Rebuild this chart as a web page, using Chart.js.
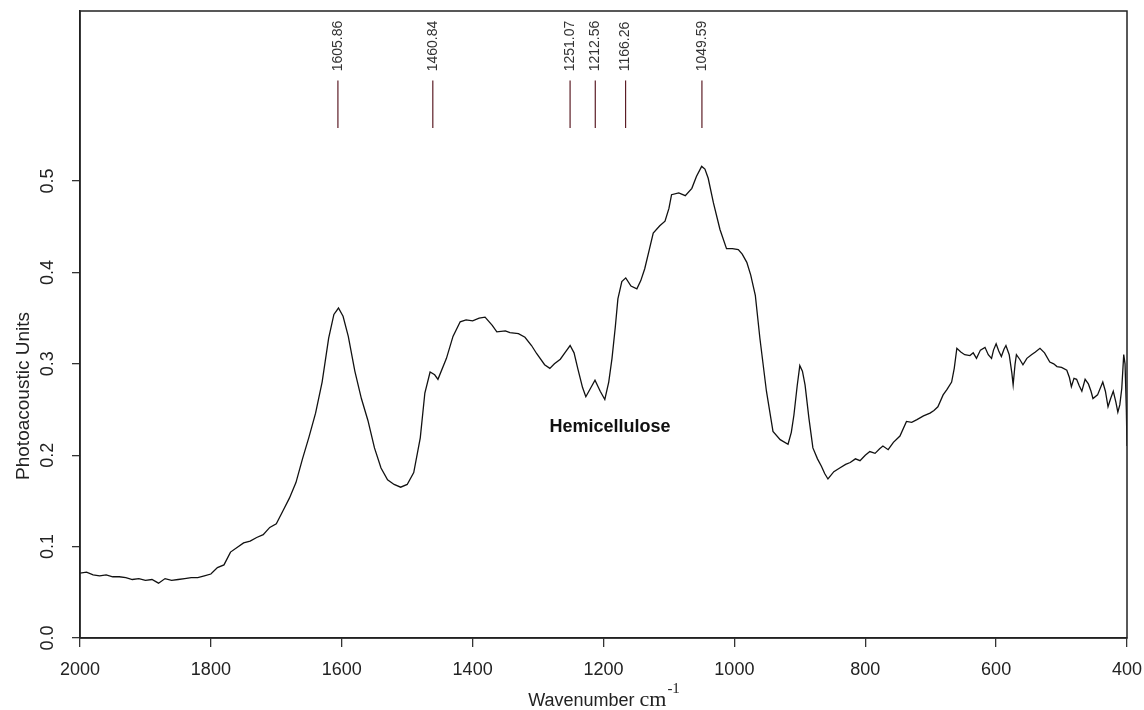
<!DOCTYPE html>
<html>
<head>
<meta charset="utf-8">
<script src="https://cdn.jsdelivr.net/npm/chart.js@4.4.0/dist/chart.umd.min.js"></script>
<style>
  html, body { margin: 0; padding: 0; background: #fff; }
</style>
</head>
<body>
<canvas id="spectrum" width="1144" height="710"></canvas>
<script>
// spectrum (wavenumber, photoacoustic units)
const wavenumbers = [
  2000, 1990, 1980, 1970, 1960, 1950, 1940, 1930, 1920, 1910, 1900, 1890, 1880, 1870, 1860, 1850,
  1840, 1830, 1820, 1810, 1800, 1790, 1780, 1770, 1760, 1750, 1740, 1730, 1720, 1710, 1700, 1690,
  1680, 1670, 1660, 1650, 1640, 1630, 1620, 1612, 1605, 1598, 1590, 1580, 1570, 1560, 1550, 1540,
  1530, 1520, 1510, 1500, 1490, 1480, 1473, 1465, 1458, 1453, 1440, 1430, 1419, 1410, 1400, 1390,
  1381, 1370, 1363, 1350, 1343, 1330, 1320, 1310, 1302, 1290, 1282, 1275, 1266, 1258, 1251, 1245,
  1239, 1232, 1227, 1220, 1213, 1205, 1198, 1192, 1187, 1182, 1178, 1172, 1166, 1158, 1149, 1143,
  1137, 1130, 1124, 1114, 1106, 1100, 1096, 1085, 1075, 1065, 1058, 1050, 1045, 1040, 1032, 1022,
  1012, 1003, 994, 988, 981, 975, 968, 961, 951, 941, 930, 918, 913, 909, 904, 900,
  896, 892, 886, 880, 873, 867, 862, 857, 848, 839, 830, 823, 815, 808, 800, 793,
  785, 778, 773, 765, 757, 747, 737, 729, 721, 711, 701, 695, 689, 681, 675, 668,
  664, 660, 654, 648, 640, 635, 630, 624, 617, 612, 607, 604, 600, 596, 592, 588,
  585, 580, 576, 574, 571, 569, 564, 559, 553, 546, 540, 533, 526, 518, 512, 507,
  500, 492, 488, 485, 481, 477, 473, 469, 464, 459, 455, 452, 445, 437, 433, 429,
  425, 421, 417, 414, 411, 408, 405, 403, 401, 400
];
const photoacoustic = [
  0.071, 0.072, 0.069, 0.068, 0.069, 0.067, 0.067, 0.066, 0.064, 0.065, 0.063, 0.064, 0.060, 0.065, 0.063, 0.064,
  0.065, 0.066, 0.066, 0.068, 0.070, 0.077, 0.080, 0.094, 0.099, 0.104, 0.106, 0.110, 0.113, 0.121, 0.125, 0.139,
  0.153, 0.170, 0.196, 0.220, 0.246, 0.280, 0.328, 0.354, 0.361, 0.352, 0.330, 0.292, 0.262, 0.238, 0.208, 0.186,
  0.173, 0.168, 0.165, 0.168, 0.181, 0.219, 0.268, 0.291, 0.288, 0.283, 0.306, 0.330, 0.346, 0.348, 0.347, 0.350,
  0.351, 0.342, 0.335, 0.336, 0.334, 0.333, 0.329, 0.320, 0.311, 0.299, 0.295, 0.300, 0.305, 0.313, 0.320, 0.312,
  0.294, 0.274, 0.264, 0.273, 0.282, 0.270, 0.261, 0.280, 0.306, 0.340, 0.371, 0.390, 0.394, 0.385, 0.382, 0.391,
  0.404, 0.425, 0.443, 0.451, 0.456, 0.470, 0.485, 0.487, 0.484, 0.492, 0.505, 0.516, 0.513, 0.503, 0.476, 0.447,
  0.426, 0.426, 0.425, 0.420, 0.411, 0.397, 0.375, 0.328, 0.270, 0.226, 0.217, 0.212, 0.225, 0.244, 0.276, 0.298,
  0.292, 0.277, 0.240, 0.208, 0.196, 0.188, 0.180, 0.174, 0.182, 0.186, 0.190, 0.192, 0.196, 0.194, 0.200, 0.204,
  0.202, 0.207, 0.210, 0.206, 0.214, 0.221, 0.237, 0.236, 0.239, 0.243, 0.246, 0.249, 0.253, 0.266, 0.272, 0.280,
  0.295, 0.317, 0.313, 0.310, 0.309, 0.312, 0.306, 0.315, 0.318, 0.310, 0.306, 0.315, 0.322, 0.314, 0.308, 0.316,
  0.320, 0.310, 0.290, 0.277, 0.300, 0.310, 0.305, 0.299, 0.306, 0.310, 0.313, 0.317, 0.312, 0.302, 0.300, 0.297,
  0.296, 0.293, 0.285, 0.275, 0.284, 0.283, 0.276, 0.270, 0.283, 0.278, 0.270, 0.262, 0.266, 0.280, 0.270, 0.253,
  0.262, 0.270, 0.258, 0.247, 0.255, 0.273, 0.310, 0.300, 0.250, 0.210
];

// marked peaks
const peakPositions = [1605.86, 1460.84, 1251.07, 1212.56, 1166.26, 1049.59];
const peakLabels = ["1605.86", "1460.84", "1251.07", "1212.56", "1166.26", "1049.59"];

const xTicks = [2000, 1800, 1600, 1400, 1200, 1000, 800, 600, 400];
const yTicks = [0.0, 0.1, 0.2, 0.3, 0.4, 0.5];

const annotationText = "Hemicellulose";
const annotationAt = [1190, 0.231];

const sans = '"Liberation Sans", Arial, sans-serif';
const serif = '"Liberation Serif", "Times New Roman", serif';
const markTop = 0.61, markBottom = 0.558, markLabelStart = 0.62;

let points = [];
for (let i = 0; i < wavenumbers.length; i++) {
  points.push({ x: wavenumbers[i], y: photoacoustic[i] });
}

let datasets = [{
  data: points,
  borderColor: "#111",
  borderWidth: 1.3,
  pointRadius: 0,
  tension: 0
}];
peakPositions.forEach(function (p) {
  datasets.push({
    data: [{ x: p, y: markBottom }, { x: p, y: markTop }],
    borderColor: "#5c1d26",
    borderWidth: 1.2,
    pointRadius: 0
  });
});

// no extra room for tick labels hanging over the plot edges
function noPad(s) {
  s.paddingLeft = 0; s.paddingRight = 0; s.paddingTop = 0; s.paddingBottom = 0;
}

const decor = {
  id: "decor",
  afterDraw(chart) {
    const ctx = chart.ctx;
    const a = chart.chartArea;
    const xs = chart.scales.x, ys = chart.scales.y;
    ctx.save();

    // box round the plot
    ctx.strokeStyle = "#222";
    ctx.lineWidth = 1.5;
    ctx.strokeRect(a.left, a.top, a.right - a.left, a.bottom - a.top);

    // peak labels
    ctx.fillStyle = "#333";
    ctx.font = "14px " + sans;
    ctx.textAlign = "left";
    ctx.textBaseline = "middle";
    peakPositions.forEach(function (p, i) {
      ctx.save();
      ctx.translate(xs.getPixelForValue(p), ys.getPixelForValue(markLabelStart));
      ctx.rotate(-Math.PI / 2);
      ctx.fillText(peakLabels[i], 0, 0);
      ctx.restore();
    });

    // annotation
    ctx.fillStyle = "#111";
    ctx.font = "bold 18px " + sans;
    ctx.textAlign = "center";
    ctx.fillText(annotationText, xs.getPixelForValue(annotationAt[0]), ys.getPixelForValue(annotationAt[1]));

    // y title
    ctx.fillStyle = "#222";
    ctx.font = "19px " + sans;
    ctx.save();
    ctx.translate(24, 396);
    ctx.rotate(-Math.PI / 2);
    ctx.fillText("Photoacoustic Units", 0, 0);
    ctx.restore();

    // x title: Wavenumber cm^-1
    const t1 = "Wavenumber ", t2 = "cm", t3 = "-1";
    ctx.font = "18px " + sans;
    const w1 = ctx.measureText(t1).width;
    ctx.font = "22px " + serif;
    const w2 = ctx.measureText(t2).width;
    ctx.font = "15px " + serif;
    const w3 = ctx.measureText(t3).width;
    let x0 = (a.left + a.right) / 2 - (w1 + w2 + w3) / 2;
    const base = 706;
    ctx.textAlign = "left";
    ctx.textBaseline = "alphabetic";
    ctx.font = "18px " + sans;
    ctx.fillText(t1, x0, base);
    ctx.font = "22px " + serif;
    ctx.fillText(t2, x0 + w1, base);
    ctx.font = "15px " + serif;
    ctx.fillText(t3, x0 + w1 + w2 + 1, base - 13);

    ctx.restore();
  }
};

new Chart(document.getElementById("spectrum"), {
  type: "line",
  data: { datasets: datasets },
  options: {
    responsive: false,
    animation: false,
    devicePixelRatio: 1,
    layout: { padding: { top: 11, right: 17, left: 0, bottom: 0 } },
    plugins: { legend: { display: false }, tooltip: { enabled: false } },
    scales: {
      x: {
        type: "linear",
        min: 400,
        max: 2000,
        reverse: true,
        afterBuildTicks: function (s) { s.ticks = xTicks.map(v => ({ value: v })); },
        afterFit: function (s) { s.height = 72; noPad(s); },
        grid: { drawOnChartArea: false, tickLength: 9, color: "#333", lineWidth: 1.3 },
        border: { color: "#222", width: 1.5 },
        ticks: {
          color: "#222",
          padding: 12,
          maxRotation: 0,
          font: { family: sans, size: 18 },
          callback: v => String(v)
        }
      },
      y: {
        min: 0,
        max: 0.686,
        afterBuildTicks: function (s) { s.ticks = yTicks.map(v => ({ value: v })); },
        afterFit: function (s) { s.width = 80; noPad(s); },
        grid: { drawOnChartArea: false, tickLength: 8, color: "#333", lineWidth: 1.3 },
        border: { color: "#222", width: 1.5 },
        ticks: {
          color: "#222",
          padding: 11,
          minRotation: 90,
          maxRotation: 90,
          crossAlign: "center",
          font: { family: sans, size: 18 },
          callback: v => Number(v).toFixed(1)
        }
      }
    }
  },
  plugins: [decor]
});
</script>
</body>
</html>
